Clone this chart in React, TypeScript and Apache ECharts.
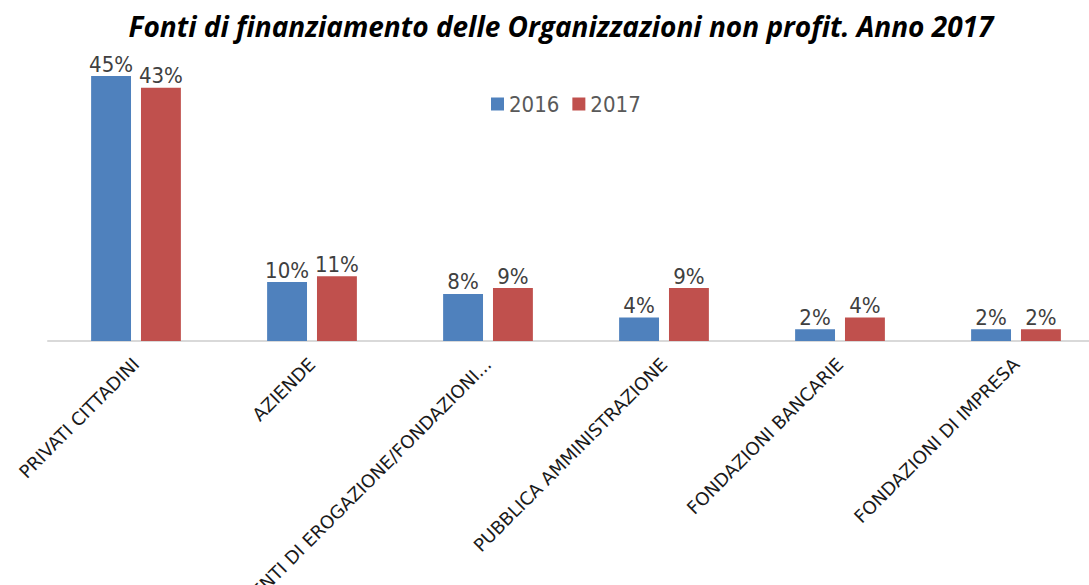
import React, { useEffect, useRef } from "react";
import * as echarts from "echarts";

const categories = [
  "PRIVATI CITTADINI",
  "AZIENDE",
  "ENTI DI EROGAZIONE/FONDAZIONI...",
  "PUBBLICA AMMINISTRAZIONE",
  "FONDAZIONI BANCARIE",
  "FONDAZIONI DI IMPRESA",
];
const values2016 = [45, 10, 8, 4, 2, 2];
const values2017 = [43, 11, 9, 9, 4, 2];
const seriesNames = ["2016", "2017"];
const titleText = "Fonti di finanziamento delle Organizzazioni non profit. Anno 2017";

const condensed = "'DejaVu Sans Condensed', 'DejaVu Sans'";

export default function App() {
  const ref = useRef<HTMLDivElement>(null);
  useEffect(() => {
    if (!ref.current) return;
    const chart = echarts.init(ref.current, undefined, { renderer: "svg" });
    const labelStyle = {
      show: true,
      position: "top" as const,
      distance: 1,
      formatter: "{c}%",
      color: "#404040",
      fontFamily: condensed,
      fontSize: 22,
    };
    chart.setOption({
      animation: false,
      backgroundColor: "#ffffff",
      title: {
        text: titleText,
        left: 561,
        top: 12,
        textAlign: "center",
        padding: 0,
        textStyle: {
          fontFamily: "Open Sans",
          fontStyle: "italic",
          fontWeight: "bold",
          fontSize: 28,
          color: "#000000",
        },
      },
      legend: {
        data: seriesNames,
        left: 491,
        top: 93,
        padding: 0,
        itemWidth: 13,
        itemHeight: 13,
        itemGap: 13,
        icon: "rect",
        textStyle: {
          fontFamily: condensed,
          fontSize: 22,
          color: "#595959",
        },
      },
      grid: {
        left: 48,
        right: -15,
        top: 46.6,
        bottom: 244,
        containLabel: false,
        outerBoundsMode: "none",
      },
      xAxis: {
        type: "category",
        data: categories,
        axisLine: { show: true, lineStyle: { color: "#d9d9d9", width: 2 } },
        axisTick: { show: false },
        axisLabel: {
          rotate: 45,
          interval: 0,
          margin: 20,
          color: "#1a1a1a",
          fontFamily: "DejaVu Sans",
          fontSize: 18,
        },
      },
      yAxis: {
        type: "value",
        min: 0,
        max: 50,
        show: false,
        splitLine: { show: false },
      },
      series: [
        {
          name: seriesNames[0],
          type: "bar",
          data: values2016,
          itemStyle: { color: "#4f81bd" },
          barGap: "25%",
          barCategoryGap: "49%",
          label: labelStyle,
        },
        {
          name: seriesNames[1],
          type: "bar",
          data: values2017,
          itemStyle: { color: "#c0504d" },
          barGap: "25%",
          barCategoryGap: "49%",
          label: labelStyle,
        },
      ],
    });
    return () => chart.dispose();
  }, []);
  return (
    <div
      ref={ref}
      style={{ position: "fixed", left: 0, top: 0, width: 1089, height: 585 }}
    />
  );
}
